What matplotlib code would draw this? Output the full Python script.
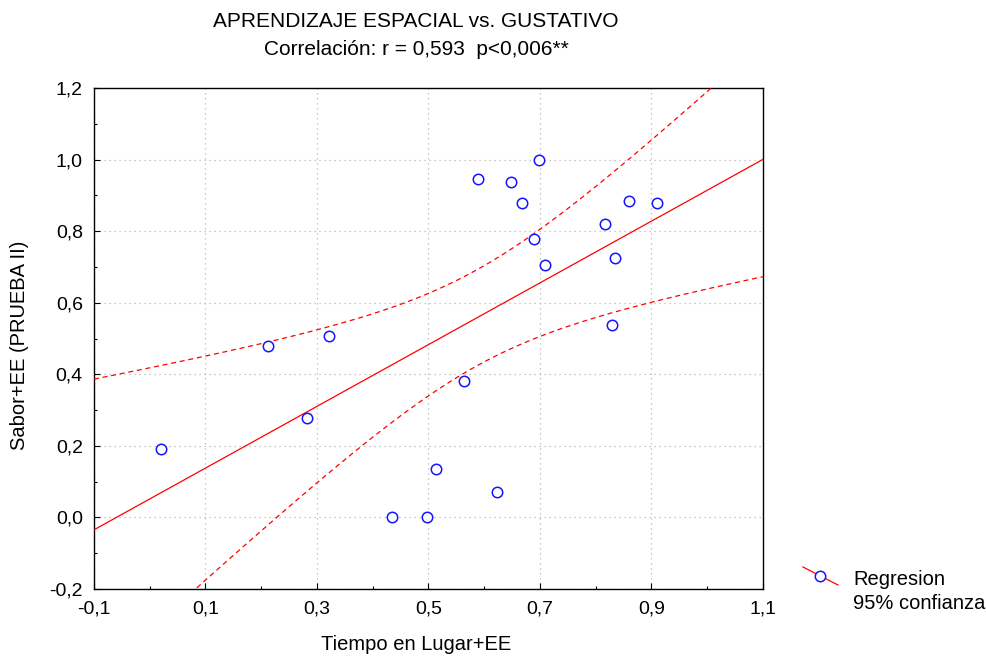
import numpy as np
import matplotlib
matplotlib.use("Agg")
import matplotlib.pyplot as plt
from matplotlib.ticker import MultipleLocator, FuncFormatter
from matplotlib.lines import Line2D

plt.rcParams['font.family'] = ['Liberation Sans', 'DejaVu Sans']

tiempo = [0.020, 0.212, 0.322, 0.282, 0.435, 0.497, 0.513, 0.564, 0.623, 0.589,
          0.648, 0.698, 0.668, 0.689, 0.709, 0.817, 0.860, 0.910, 0.835, 0.829]
sabor = [0.192, 0.480, 0.508, 0.278, 0.000, 0.000, 0.136, 0.382, 0.072, 0.947,
         0.938, 1.000, 0.878, 0.779, 0.706, 0.821, 0.885, 0.879, 0.724, 0.538]

title1 = "APRENDIZAJE ESPACIAL vs. GUSTATIVO"
title2 = "Correlación: r = 0,593  p<0,006**"
xlabel = "Tiempo en Lugar+EE"
ylabel = "Sabor+EE (PRUEBA II)"
legend_labels = ["Regresion", "95% confianza"]

x = np.array(tiempo)
y = np.array(sabor)
n = len(x)
b, a = np.polyfit(x, y, 1)
resid = y - (a + b * x)
s = np.sqrt(np.sum(resid ** 2) / (n - 2))
t_crit = 2.101  # t(0.975, df=18)
xm = x.mean()
sxx = np.sum((x - xm) ** 2)
xg = np.linspace(-0.1, 1.1, 300)
yg = a + b * xg
se = s * np.sqrt(1.0 / n + (xg - xm) ** 2 / sxx)
upper = yg + t_crit * se
lower = yg - t_crit * se

FS = 14

fig = plt.figure(figsize=(9.87, 6.57), dpi=100)
fig.subplots_adjust(left=0.0952, right=0.773, top=0.866, bottom=0.1035)
ax = fig.add_subplot(111)

ax.plot(xg, yg, color='red', lw=0.9, zorder=3)
ax.plot(xg, upper, color='red', lw=0.9, ls=(0, (4, 3)), zorder=3)
ax.plot(xg, lower, color='red', lw=0.9, ls=(0, (4, 3)), zorder=3)
ax.plot(x, y, ls='none', marker='o', ms=7.5, mfc='white', mec='#1414ff', mew=1.1, zorder=4)

ax.set_xlim(-0.1, 1.1)
ax.set_ylim(-0.2, 1.2)
ax.xaxis.set_major_locator(MultipleLocator(0.2))
ax.xaxis.set_minor_locator(MultipleLocator(0.1))
ax.yaxis.set_major_locator(MultipleLocator(0.2))
ax.yaxis.set_minor_locator(MultipleLocator(0.1))
fmt = FuncFormatter(lambda v, p: ("%.1f" % v).replace('.', ',').replace('-0,0', '0,0'))
ax.xaxis.set_major_formatter(fmt)
ax.yaxis.set_major_formatter(fmt)
ax.set_xticks(np.arange(-0.1, 1.11, 0.2))
ax.tick_params(which='both', direction='in', labelsize=FS, color='black')
ax.tick_params(which='major', length=4, width=0.8)
ax.tick_params(axis='x', which='major', pad=8)
ax.tick_params(axis='y', which='major', pad=8)
ax.tick_params(which='minor', length=2.5, width=0.8)
ax.grid(True, which='major', color='#b8b8b8', ls=(0, (1, 3)), lw=0.9)
for sp in ax.spines.values():
    sp.set_linewidth(1.0)

ax.set_xlabel(xlabel, fontsize=14.5, labelpad=13)
ax.xaxis.label.set_x(0.481)
ax.set_ylabel(ylabel, fontsize=14.5, labelpad=15)
ax.yaxis.label.set_y(0.487)

fig.text(0.4215, 0.967, title1, ha='center', va='center', fontsize=15)
fig.text(0.4215, 0.924, title2, ha='center', va='center', fontsize=15)

# legend (outside, bottom right)
fig.add_artist(Line2D([803 / 987, 838 / 987], [1 - 567 / 657, 1 - 585 / 657],
                      color='red', lw=0.9, transform=fig.transFigure))
fig.add_artist(Line2D([820 / 987], [1 - 576 / 657], ls='none', marker='o', ms=7.5,
                      mfc='white', mec='#1414ff', mew=1.1, transform=fig.transFigure))
fig.text(853 / 987, 1 - 585 / 657, legend_labels[0], fontsize=14.5, va='baseline')
fig.text(853 / 987, 1 - 609 / 657, legend_labels[1], fontsize=14.5, va='baseline')

fig.savefig("out.png", dpi=100)
